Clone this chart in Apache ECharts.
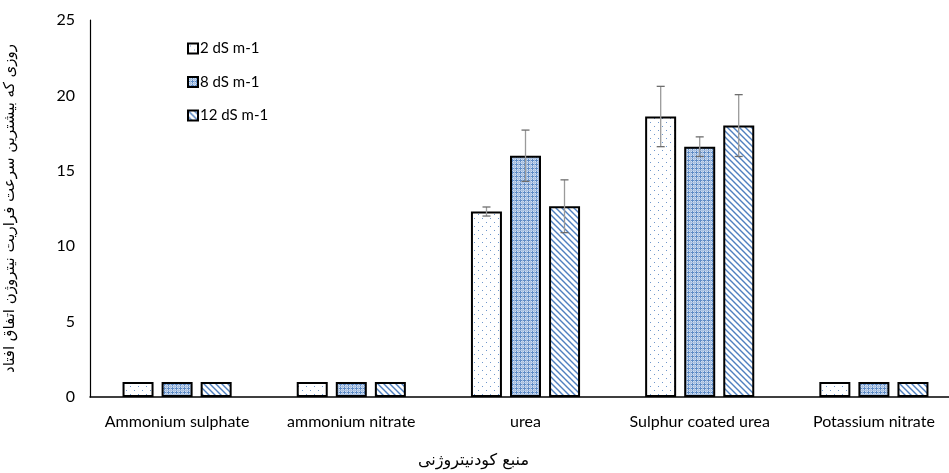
<!DOCTYPE html>
<html>
<head>
<meta charset="utf-8">
<script src="https://cdn.jsdelivr.net/npm/echarts@6/dist/echarts.min.js"></script>
<style>
html, body { margin: 0; padding: 0; background: #fff; }
#chart { width: 949px; height: 473px; }
</style>
</head>
<body>
<div id="chart"></div>
<script>
var categories = ['Ammonium sulphate', 'ammonium nitrate', 'urea', 'Sulphur coated urea', 'Potassium nitrate'];
var seriesNames = ['2 dS m-1', '8 dS m-1', '12 dS m-1'];
var vals2 = [1, 1, 12.3, 18.6, 1];
var vals8 = [1, 1, 16.0, 16.6, 1];
var vals12 = [1, 1, 12.65, 18.0, 1];
var err2 = [0, 0, 0.3, 2.0, 0];
var err8 = [0, 0, 1.7, 0.65, 0];
var err12 = [0, 0, 1.75, 2.05, 0];

// little canvases used as fill patterns
function makePattern(w, h, draw) {
	var c = document.createElement('canvas');
	c.width = w; c.height = h;
	var ctx = c.getContext('2d');
	ctx.fillStyle = '#fff';
	ctx.fillRect(0, 0, w, h);
	draw(ctx);
	return { image: c, repeat: 'repeat' };
}
var dotFill = makePattern(8, 8, function(ctx) {
	ctx.fillStyle = '#6f97cc';
	ctx.fillRect(2, 2, 1, 1);
	ctx.fillRect(6, 6, 1, 1);
});
var gridFill = makePattern(4, 4, function(ctx) {
	ctx.fillStyle = '#d3e0f1';
	ctx.fillRect(0, 0, 4, 4);
	ctx.fillStyle = '#5f8cc6';
	ctx.fillRect(0, 0, 1, 4);
	ctx.fillRect(0, 0, 4, 1);
	ctx.fillStyle = '#a9c1e2';
	ctx.fillRect(2, 0, 1, 4);
	ctx.fillRect(0, 2, 4, 1);
});
var diagFill = makePattern(6, 6, function(ctx) {
	ctx.strokeStyle = '#4f7fbf';
	ctx.lineWidth = 1.4;
	ctx.beginPath();
	ctx.moveTo(-1, -1); ctx.lineTo(7, 7);
	ctx.moveTo(-4, 2); ctx.lineTo(4, 10);
	ctx.moveTo(2, -4); ctx.lineTo(10, 4);
	ctx.stroke();
});

var barW = 31;
var step = 39;

function barSeries(name, data, fill) {
	return {
		name: name,
		type: 'bar',
		data: data,
		barWidth: barW,
		barGap: '26%',
		itemStyle: { color: fill, borderColor: '#000', borderWidth: 2 },
		emphasis: { disabled: true }
	};
}

function errSeries(vals, errs, idx) {
	var data = vals.map(function(v, i) { return [i, v, errs[i]]; });
	return {
		type: 'custom',
		z: 10,
		silent: true,
		data: data,
		renderItem: function(params, api) {
			var e = api.value(2);
			if (!e) return null;
			var v = api.value(1);
			var hi = api.coord([api.value(0), v + e]);
			var lo = api.coord([api.value(0), v - e]);
			var x = hi[0] + (idx - 1) * step;
			var st = { stroke: '#9a9a9a', lineWidth: 1.3 };
			var cap = { stroke: '#6e6e6e', lineWidth: 1.3 };
			return {
				type: 'group',
				children: [
					{ type: 'line', shape: { x1: x, y1: hi[1], x2: x, y2: lo[1] }, style: st },
					{ type: 'line', shape: { x1: x - 4, y1: hi[1], x2: x + 4, y2: hi[1] }, style: cap },
					{ type: 'line', shape: { x1: x - 4, y1: lo[1], x2: x + 4, y2: lo[1] }, style: cap }
				]
			};
		}
	};
}

var myChart = echarts.init(document.getElementById('chart'));
var option = {
	animation: false,
	textStyle: { fontFamily: 'Lato, "DejaVu Sans", sans-serif' },
	grid: { left: 90, top: 20, width: 871, height: 377, outerBoundsMode: 'none', containLabel: false },
	legend: {
		orient: 'vertical',
		left: 182,
		top: 36,
		itemGap: 18.5,
		itemWidth: 10,
		itemHeight: 10,
		icon: 'rect',
		data: seriesNames,
		textStyle: { fontSize: 15, color: '#000', padding: [0, 0, 0, -3] }
	},
	xAxis: {
		type: 'category',
		data: categories,
		axisLine: { lineStyle: { color: '#000', width: 1.5 } },
		axisTick: { show: false },
		axisLabel: { color: '#000', fontSize: 16, margin: 17, interval: 0 }
	},
	yAxis: {
		type: 'value',
		min: 0,
		max: 25,
		interval: 5,
		name: 'روزی که بیشترین سرعت فراریت نیتروژن اتفاق افتاد',
		nameLocation: 'middle',
		nameGap: 72,
		nameRotate: 90,
		nameTextStyle: { fontSize: 15, color: '#000', fontFamily: '"DejaVu Sans", sans-serif' },
		axisLine: { show: true, lineStyle: { color: '#000', width: 1.2 } },
		axisTick: { show: false },
		splitLine: { show: false },
		axisLabel: { color: '#000', fontSize: 16, margin: 15 }
	},
	graphic: [{
		type: 'text',
		left: 418,
		top: 453,
		style: { text: 'منبع کودنیتروژنی', fontSize: 16, fill: '#000', fontFamily: '"DejaVu Sans", sans-serif' }
	}],
	series: [
		barSeries(seriesNames[0], vals2, dotFill),
		barSeries(seriesNames[1], vals8, gridFill),
		barSeries(seriesNames[2], vals12, diagFill),
		errSeries(vals2, err2, 0),
		errSeries(vals8, err8, 1),
		errSeries(vals12, err12, 2)
	]
};
myChart.setOption(option);
</script>
</body>
</html>
